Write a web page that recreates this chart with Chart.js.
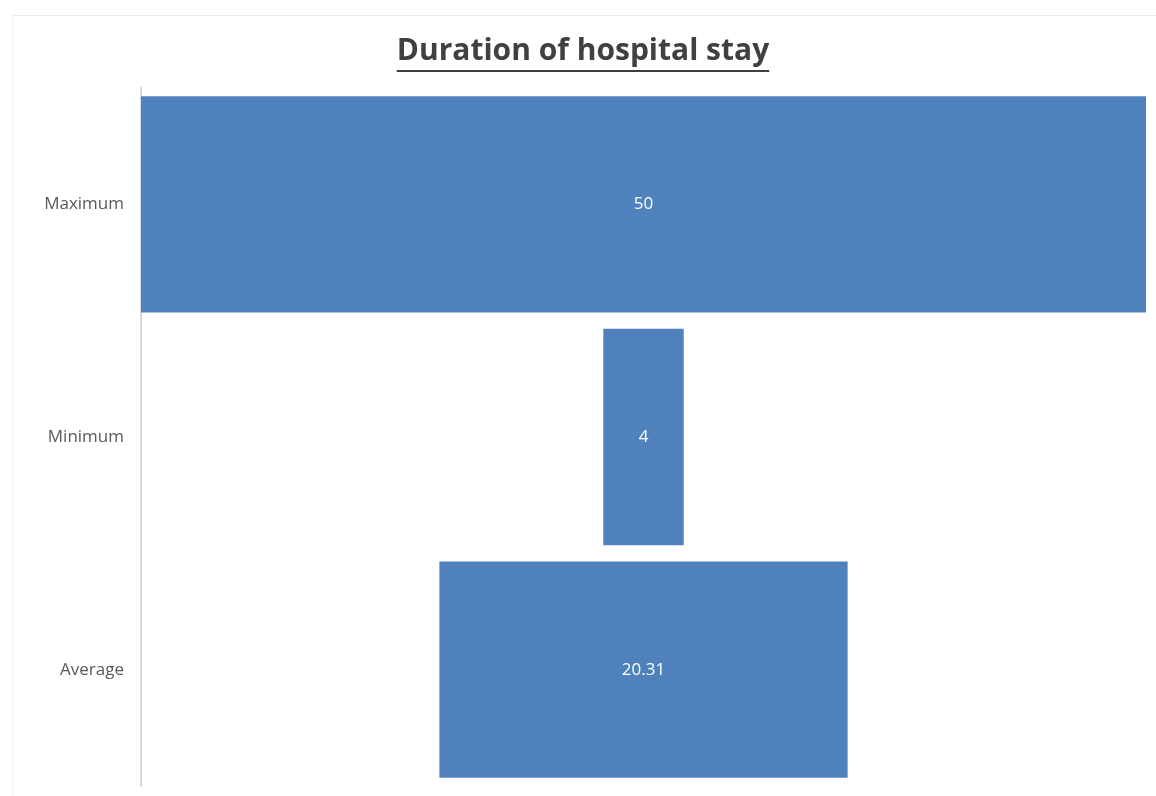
<!DOCTYPE html>
<html>
<head>
<meta charset="utf-8">
<script src="https://cdn.jsdelivr.net/npm/chart.js@4/dist/chart.umd.min.js"></script>
<style>
  body { margin: 0; background: #fff; }
  #wrap { width: 1156px; height: 796px; position: relative; }
  #frame {
    position: absolute; left: 12px; top: 15px; right: 0; bottom: 0;
    border-top: 1px solid #ececec; border-left: 1px solid #f2f2f2;
  }
</style>
</head>
<body>
<div id="wrap"><div id="frame"></div><canvas id="stay-chart"></canvas></div>
<script>
const categories = ['Maximum', 'Minimum', 'Average']
const values = [50, 4, 20.31]
const chartTitle = 'Duration of hospital stay'

// funnel: each bar centred on zero
const funnelData = values.map((v) => [-v / 2, v / 2])

const barLabels = {
  id: 'barLabels',
  afterDatasetsDraw(chart) {
    const ctx = chart.ctx
    const meta = chart.getDatasetMeta(0)
    ctx.save()
    ctx.fillStyle = '#ffffff'
    ctx.font = '17px "Open Sans", sans-serif'
    ctx.textAlign = 'center'
    ctx.textBaseline = 'middle'
    meta.data.forEach((bar, i) => {
      const p = bar.getProps(['x', 'base', 'y'], true)
      ctx.fillText(String(values[i]), (p.x + p.base) / 2, p.y)
    })
    ctx.restore()
  },
}

const titleUnderline = {
  id: 'titleUnderline',
  afterDraw(chart) {
    const t = chart.titleBlock
    if (!t) return
    const ctx = chart.ctx
    ctx.save()
    ctx.font = 'bold 30px "Open Sans", sans-serif'
    const w = ctx.measureText(chartTitle).width
    const cx = t.left + t.width / 2
    const y = t.top + 38
    ctx.strokeStyle = '#404040'
    ctx.lineWidth = 2
    ctx.beginPath()
    ctx.moveTo(cx - w / 2, y)
    ctx.lineTo(cx + w / 2, y)
    ctx.stroke()
    ctx.restore()
  },
}

new Chart(document.querySelector('#stay-chart'), {
  type: 'bar',
  data: {
    labels: categories,
    datasets: [
      {
        data: funnelData,
        backgroundColor: '#4F81BD',
        borderWidth: 0,
        barPercentage: 0.93,
        categoryPercentage: 1,
      },
    ],
  },
  options: {
    indexAxis: 'y',
    responsive: true,
    maintainAspectRatio: false,
    animation: false,
    layout: { padding: { left: 20, right: 10, top: 33, bottom: 10 } },
    plugins: {
      legend: { display: false },
      tooltip: { enabled: false },
      title: {
        display: true,
        text: chartTitle,
        color: '#404040',
        font: { family: '"Open Sans", sans-serif', size: 30, weight: 'bold' },
        padding: { top: 0, bottom: 19 },
      },
    },
    scales: {
      x: {
        display: false,
        min: -25,
        max: 25,
      },
      y: {
        grid: { display: false },
        border: { color: '#d9d9d9', width: 2 },
        afterFit: (scale) => {
          scale.width = 121
          scale.paddingTop = 0
          scale.paddingBottom = 0
        },
        ticks: {
          color: '#595959',
          padding: 9,
          font: { family: '"Open Sans", sans-serif', size: 17 },
        },
      },
    },
  },
  plugins: [barLabels, titleUnderline],
})
</script>
</body>
</html>
